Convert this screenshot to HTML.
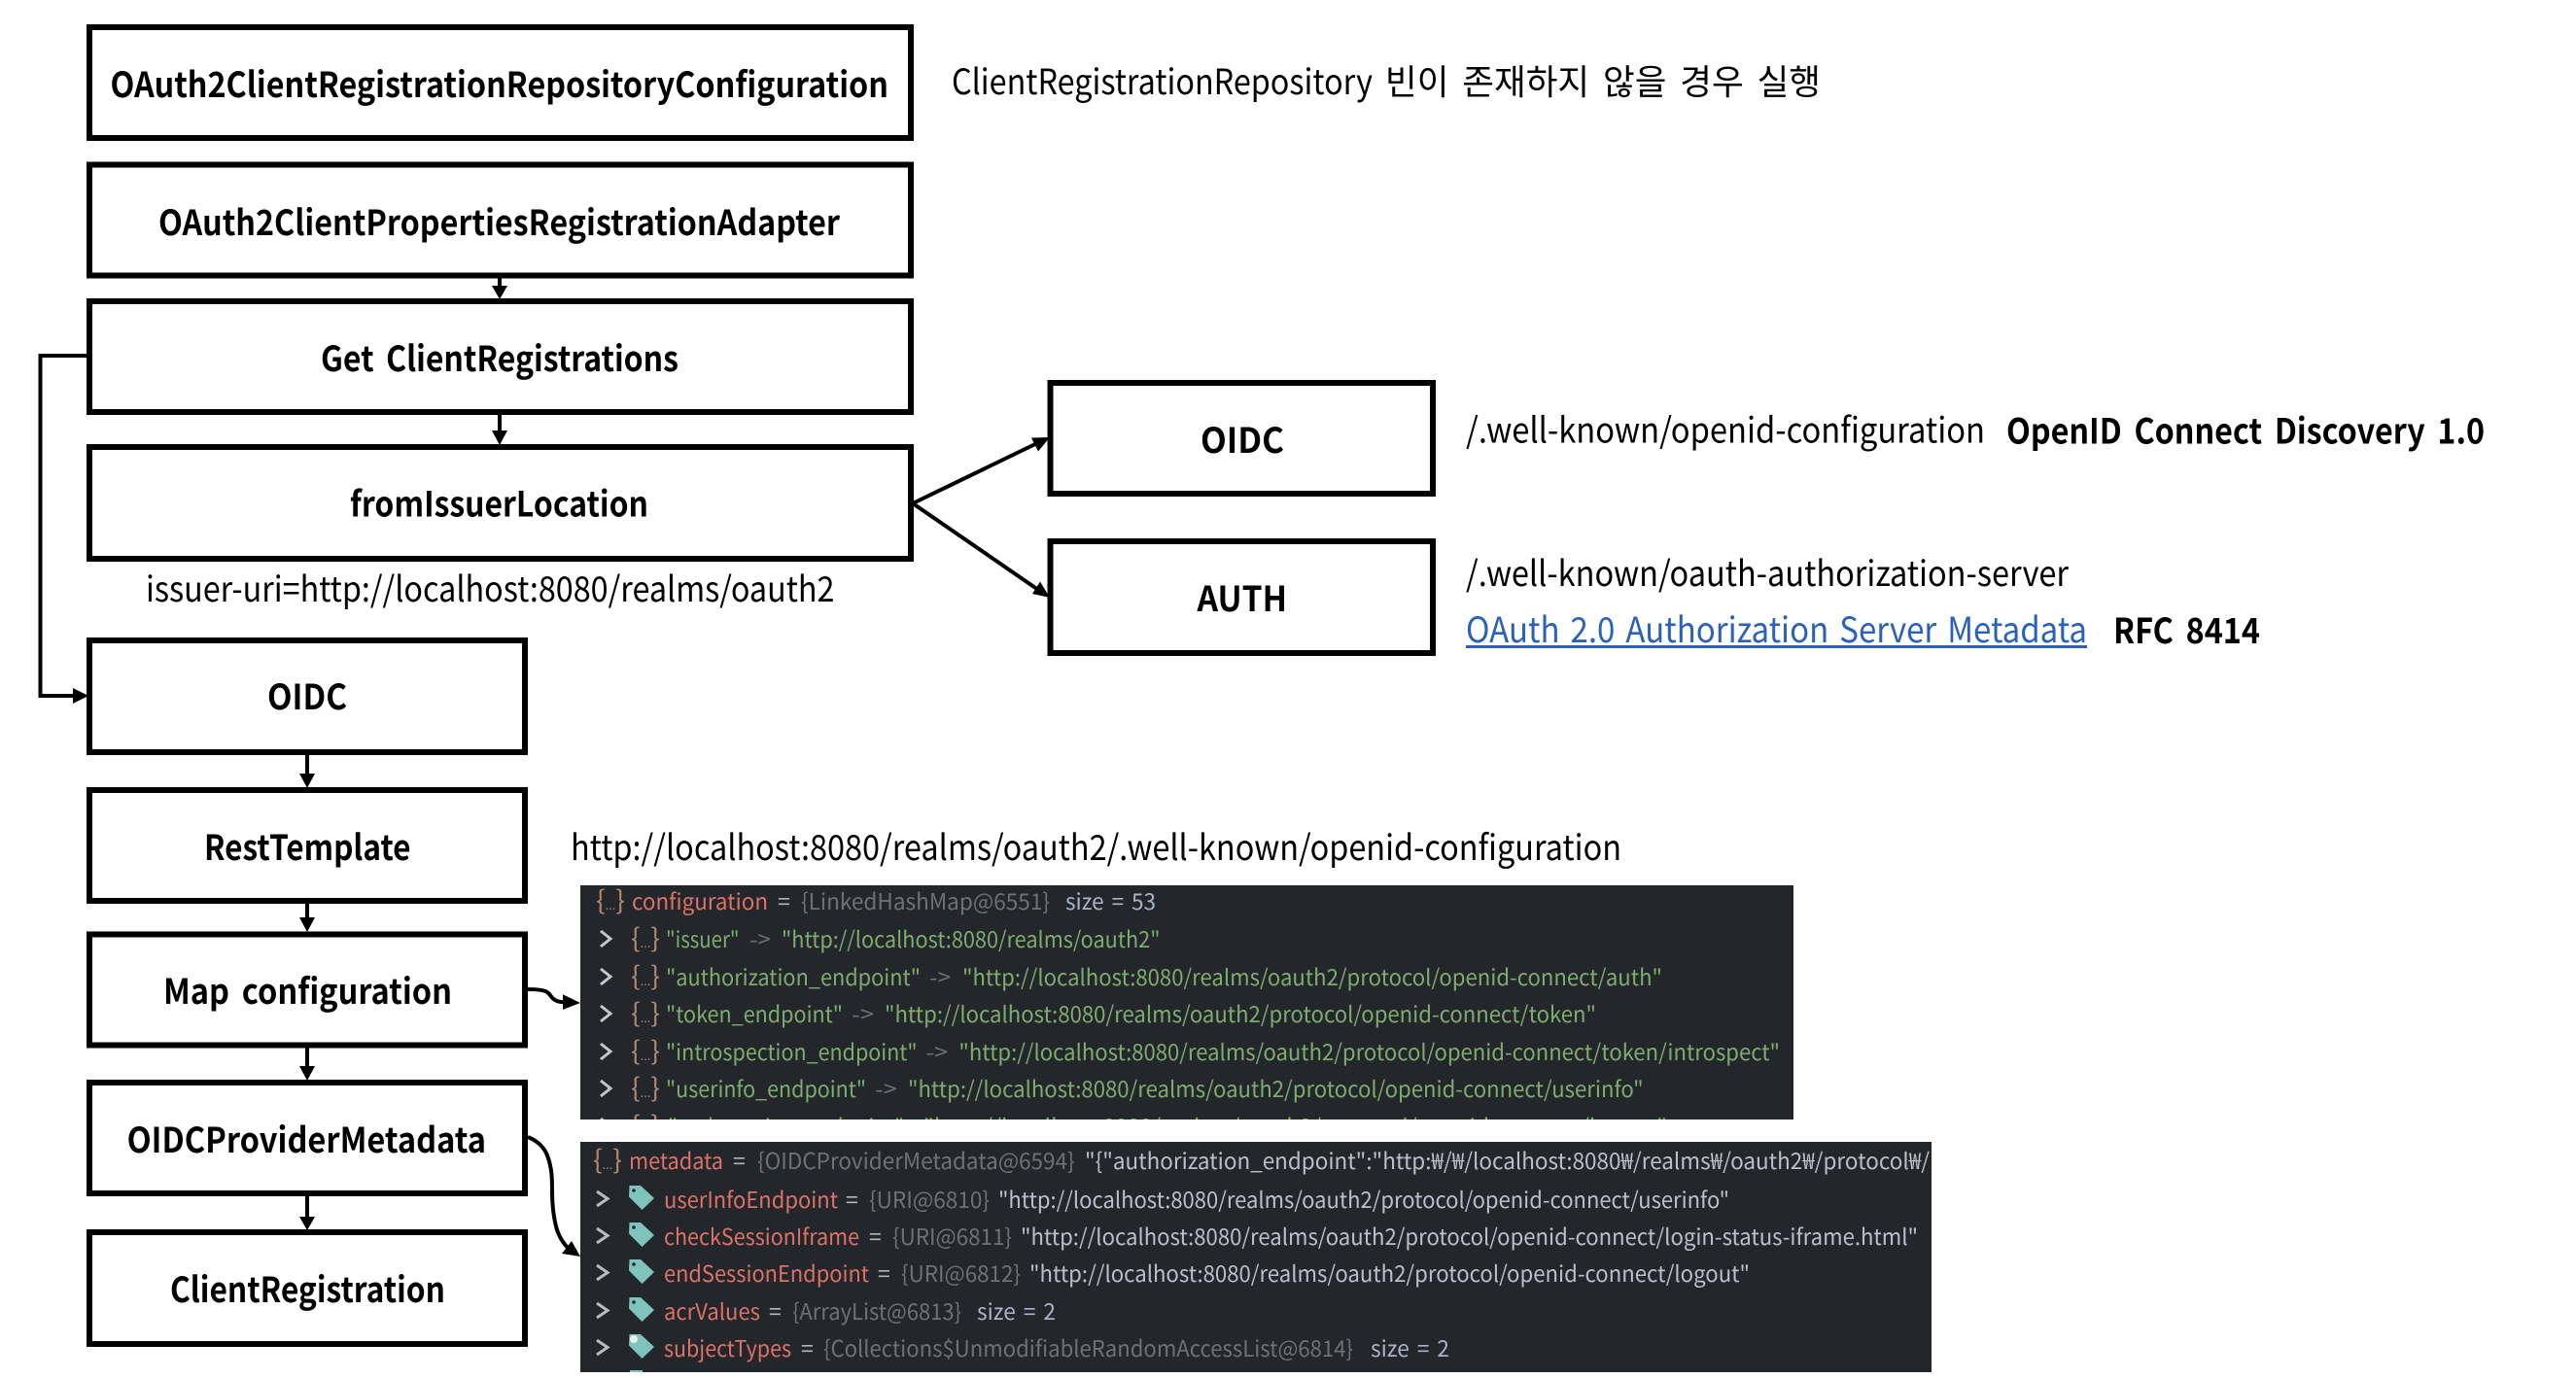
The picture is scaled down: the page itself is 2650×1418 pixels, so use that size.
<!DOCTYPE html>
<html><head><meta charset="utf-8"><style>
html,body{margin:0;padding:0;background:#fff}
svg{display:block}
text{font-family:"Noto Sans CJK KR","Liberation Sans",sans-serif;white-space:pre}
.b{font-size:36px;font-weight:700;fill:#000;word-spacing:6px}
.r{font-size:36px;fill:#000}
.c{font-size:23px}
text.tan{font-size:27px}
.d{font-size:12px}
.tan{fill:#b08a70}.red{fill:#dc7268}.eq{fill:#b0b6c0}.gry{fill:#6c727a}.sz{fill:#a9b4c6}.grn{fill:#7fac6e}.lt{fill:#b8c0cc}.ar{fill:#6e7278}
</style></head><body>
<svg xmlns="http://www.w3.org/2000/svg" width="2650" height="1418" viewBox="0 0 2650 1418">
<defs>
<clipPath id="p1"><rect x="597" y="911" width="1248" height="241"/></clipPath>
<clipPath id="p2"><rect x="597" y="1175" width="1390" height="237"/></clipPath>
<g id="tag"><path d="M647.500 -23 L659 -23 L673 -10 L660.500 2 L647 -11.500 Z" fill="#7fc4bc"/><circle cx="652" cy="-18" r="1.800" fill="#23262b"/></g>
<g id="tagw"><path d="M647.500 -23 L659 -23 L673 -10 L660.500 2 L647 -11.500 Z" fill="#7fc4bc"/><circle cx="652" cy="-18" r="4" fill="#e8eeee"/></g>
</defs>
<rect width="2650" height="1418" fill="#fff"/>

<!-- boxes -->
<g fill="#fff" stroke="#000" stroke-width="6">
<rect x="92" y="28" width="845" height="114"/>
<rect x="92" y="169.500" width="845" height="114"/>
<rect x="92" y="310" width="845" height="114"/>
<rect x="92" y="460" width="845" height="115"/>
<rect x="1080.500" y="394" width="393.500" height="114"/>
<rect x="1080.500" y="557" width="393.500" height="115"/>
<rect x="92" y="659" width="448" height="115"/>
<rect x="92" y="813" width="448" height="114"/>
<rect x="92" y="961.500" width="448" height="114"/>
<rect x="92" y="1114" width="448" height="114"/>
<rect x="92" y="1268" width="448" height="115"/>
</g>

<!-- connectors -->
<g fill="none" stroke="#000" stroke-width="4">
<path d="M514 286V294"/><path d="M514 427V443"/>
<path d="M316 777V796"/><path d="M316 930V944"/><path d="M316 1078V1097"/><path d="M316 1231V1252"/>
<path d="M89 366H41.500V716H76"/>
<path d="M939 518L1066 456.500"/><path d="M939 518L1066 605.500"/>
<path d="M543 1018C553 1018 560 1019 563 1021C567 1024 567 1027 571 1029C574 1031 577 1031 582 1031.500"/>
<path d="M543 1170C553 1174 560 1181 563 1189C568 1202 568 1214 568 1226C568 1240 569 1250 572 1262C574 1270 578 1278 585 1285"/>
</g>
<g fill="#000">
<polygon points="506,294 522,294 514,308"/>
<polygon points="506,443 522,443 514,458"/>
<polygon points="308,796 324,796 316,811"/>
<polygon points="308,944 324,944 316,959"/>
<polygon points="308,1097 324,1097 316,1112"/>
<polygon points="308,1252 324,1252 316,1266"/>
<polygon points="75,708 75,724 91,716"/>
<polygon points="1080,450 1068,464.500 1061,450.500"/>
<polygon points="1080,615 1062,611 1070,598.500"/>
<polygon points="597,1032 579,1023.300 579,1039"/>
<polygon points="597,1293 578,1290 588,1277"/>
</g>

<g transform="translate(0,1)">
<!-- box labels -->
<text class="b" x="113.500" y="99" textLength="800.500" lengthAdjust="spacingAndGlyphs">OAuth2ClientRegistrationRepositoryConfiguration</text>
<text class="b" x="163" y="241" textLength="701" lengthAdjust="spacingAndGlyphs">OAuth2ClientPropertiesRegistrationAdapter</text>
<text class="b" x="330" y="381" textLength="368" lengthAdjust="spacingAndGlyphs">Get ClientRegistrations</text>
<text class="b" x="360" y="530.500" textLength="307" lengthAdjust="spacingAndGlyphs">fromIssuerLocation</text>
<text class="b" x="1235" y="465" textLength="86" lengthAdjust="spacingAndGlyphs">OIDC</text>
<text class="b" x="1231.500" y="628" textLength="92.500" lengthAdjust="spacingAndGlyphs">AUTH</text>
<text class="b" x="275" y="729" textLength="82" lengthAdjust="spacingAndGlyphs">OIDC</text>
<text class="b" x="210" y="884" textLength="212.500" lengthAdjust="spacingAndGlyphs">RestTemplate</text>
<text class="b" x="168" y="1032" textLength="297" lengthAdjust="spacingAndGlyphs">Map configuration</text>
<text class="b" x="130.600" y="1185" textLength="369.400" lengthAdjust="spacingAndGlyphs">OIDCProviderMetadata</text>
<text class="b" x="175" y="1339" textLength="283" lengthAdjust="spacingAndGlyphs">ClientRegistration</text>

<!-- free text -->
<text class="r" x="979" y="96" textLength="433" lengthAdjust="spacingAndGlyphs">ClientRegistrationRepository</text>
<text class="r" x="1425" y="96" textLength="448" lengthAdjust="spacingAndGlyphs" style="word-spacing:6px">빈이 존재하지 않을 경우 실행</text>
<text class="r" x="150" y="618" textLength="708.500" lengthAdjust="spacingAndGlyphs">issuer-uri=http://localhost:8080/realms/oauth2</text>
<text class="r" x="1508" y="454.500" textLength="534" lengthAdjust="spacingAndGlyphs">/.well-known/openid-configuration</text>
<text class="b" x="2064" y="455.500" textLength="492" lengthAdjust="spacingAndGlyphs">OpenID Connect Discovery 1.0</text>
<text class="r" x="1508" y="602" textLength="620" lengthAdjust="spacingAndGlyphs">/.well-known/oauth-authorization-server</text>
<text class="r" x="1508" y="660" textLength="639" lengthAdjust="spacingAndGlyphs" style="fill:#2b62b9;word-spacing:4px">OAuth 2.0 Authorization Server Metadata</text>
<rect x="1508" y="663" width="639" height="3" fill="#2b62b9"/>
<text class="b" x="2174" y="661" textLength="151" lengthAdjust="spacingAndGlyphs">RFC 8414</text>
<text class="r" x="587" y="884" textLength="1081" lengthAdjust="spacingAndGlyphs">http://localhost:8080/realms/oauth2/.well-known/openid-configuration</text>
</g>

<!-- panel 1 -->
<rect x="597" y="911" width="1248" height="241" fill="#23262b"/>
<g clip-path="url(#p1)">
<g fill="none" stroke="#c3c6cc" stroke-width="3">
<path d="M618 958L628 966L618 974"/><path d="M618 997L628 1005L618 1013"/><path d="M618 1035L628 1043L618 1051"/><path d="M618 1074L628 1082L618 1090"/><path d="M618 1112L628 1120L618 1128"/><path d="M618 1151L628 1159L618 1167"/>
</g>
<text class="c tan" x="613" y="936" textLength="30" lengthAdjust="spacingAndGlyphs">{<tspan class="d">...</tspan>}</text>
<text class="c red" x="650" y="936" textLength="140" lengthAdjust="spacingAndGlyphs">configuration</text>
<text class="c eq" x="800" y="936">=</text>
<text class="c gry" x="824" y="936" textLength="256" lengthAdjust="spacingAndGlyphs">{LinkedHashMap@6551}</text>
<text class="c sz" x="1096" y="936" textLength="93" lengthAdjust="spacingAndGlyphs" style="word-spacing:3px">size = 53</text>

<text class="c tan" x="649" y="975" textLength="30" lengthAdjust="spacingAndGlyphs">{<tspan class="d">...</tspan>}</text>
<text class="c grn" x="685" y="975" textLength="75.500" lengthAdjust="spacingAndGlyphs">"issuer"</text>
<text class="c ar" x="771" y="975" textLength="22" lengthAdjust="spacingAndGlyphs">-&gt;</text>
<text class="c grn" x="804" y="975" textLength="389.500" lengthAdjust="spacingAndGlyphs">"http://localhost:8080/realms/oauth2"</text>

<text class="c tan" x="649" y="1014" textLength="30" lengthAdjust="spacingAndGlyphs">{<tspan class="d">...</tspan>}</text>
<text class="c grn" x="685" y="1014" textLength="262" lengthAdjust="spacingAndGlyphs">"authorization_endpoint"</text>
<text class="c ar" x="956" y="1014" textLength="22" lengthAdjust="spacingAndGlyphs">-&gt;</text>
<text class="c grn" x="990" y="1014" textLength="720" lengthAdjust="spacingAndGlyphs">"http://localhost:8080/realms/oauth2/protocol/openid-connect/auth"</text>

<text class="c tan" x="649" y="1052" textLength="30" lengthAdjust="spacingAndGlyphs">{<tspan class="d">...</tspan>}</text>
<text class="c grn" x="685" y="1052" textLength="182" lengthAdjust="spacingAndGlyphs">"token_endpoint"</text>
<text class="c ar" x="876" y="1052" textLength="23" lengthAdjust="spacingAndGlyphs">-&gt;</text>
<text class="c grn" x="910" y="1052" textLength="732" lengthAdjust="spacingAndGlyphs">"http://localhost:8080/realms/oauth2/protocol/openid-connect/token"</text>

<text class="c tan" x="649" y="1091" textLength="30" lengthAdjust="spacingAndGlyphs">{<tspan class="d">...</tspan>}</text>
<text class="c grn" x="685" y="1091" textLength="258.600" lengthAdjust="spacingAndGlyphs">"introspection_endpoint"</text>
<text class="c ar" x="952.500" y="1091" textLength="22.500" lengthAdjust="spacingAndGlyphs">-&gt;</text>
<text class="c grn" x="986.400" y="1091" textLength="844.600" lengthAdjust="spacingAndGlyphs">"http://localhost:8080/realms/oauth2/protocol/openid-connect/token/introspect"</text>

<text class="c tan" x="649" y="1129" textLength="30" lengthAdjust="spacingAndGlyphs">{<tspan class="d">...</tspan>}</text>
<text class="c grn" x="685" y="1129" textLength="206" lengthAdjust="spacingAndGlyphs">"userinfo_endpoint"</text>
<text class="c ar" x="900" y="1129" textLength="22.600" lengthAdjust="spacingAndGlyphs">-&gt;</text>
<text class="c grn" x="934" y="1129" textLength="756.600" lengthAdjust="spacingAndGlyphs">"http://localhost:8080/realms/oauth2/protocol/openid-connect/userinfo"</text>

<text class="c tan" x="649" y="1168" textLength="30" lengthAdjust="spacingAndGlyphs">{<tspan class="d">...</tspan>}</text>
<text class="c grn" x="687" y="1168" textLength="243" lengthAdjust="spacingAndGlyphs">"end_session_endpoint"</text>
<text class="c grn" x="950" y="1168" textLength="765" lengthAdjust="spacingAndGlyphs">"http://localhost:8080/realms/oauth2/protocol/openid-connect/logout"</text>
</g>

<!-- panel 2 -->
<rect x="597" y="1175" width="1390" height="237" fill="#23262b"/>
<g clip-path="url(#p2)">
<g fill="none" stroke="#b8bbc2" stroke-width="3">
<path d="M614 1226L625 1233.500L614 1241"/><path d="M614 1264L625 1271.500L614 1279"/><path d="M614 1302L625 1309.500L614 1317"/><path d="M614 1341L625 1348.500L614 1356"/><path d="M614 1379L625 1386.500L614 1394"/>
</g>
<use href="#tag" y="1243"/><use href="#tag" y="1281"/><use href="#tag" y="1319"/><use href="#tag" y="1358"/><use href="#tagw" y="1396"/>
<rect x="648" y="1410" width="13" height="2" fill="#7fc4bc"/>
<text class="c tan" x="610" y="1203" textLength="30" lengthAdjust="spacingAndGlyphs">{<tspan class="d">...</tspan>}</text>
<text class="c red" x="647" y="1203" textLength="97" lengthAdjust="spacingAndGlyphs">metadata</text>
<text class="c eq" x="754" y="1203">=</text>
<text class="c gry" x="779" y="1203" textLength="326.600" lengthAdjust="spacingAndGlyphs">{OIDCProviderMetadata@6594}</text>
<text class="c lt" x="1116" y="1203" textLength="869" lengthAdjust="spacingAndGlyphs">"{"authorization_endpoint":"http:₩/₩/localhost:8080₩/realms₩/oauth2₩/protocol₩/</text>

<text class="c red" x="683" y="1243" textLength="179" lengthAdjust="spacingAndGlyphs">userInfoEndpoint</text>
<text class="c eq" x="870" y="1243">=</text>
<text class="c gry" x="894" y="1243" textLength="124" lengthAdjust="spacingAndGlyphs">{URI@6810}</text>
<text class="c lt" x="1027" y="1243" textLength="752" lengthAdjust="spacingAndGlyphs">"http://localhost:8080/realms/oauth2/protocol/openid-connect/userinfo"</text>

<text class="c red" x="683" y="1281" textLength="201" lengthAdjust="spacingAndGlyphs">checkSessionIframe</text>
<text class="c eq" x="894" y="1281">=</text>
<text class="c gry" x="918" y="1281" textLength="123" lengthAdjust="spacingAndGlyphs">{URI@6811}</text>
<text class="c lt" x="1050" y="1281" textLength="923" lengthAdjust="spacingAndGlyphs">"http://localhost:8080/realms/oauth2/protocol/openid-connect/login-status-iframe.html"</text>

<text class="c red" x="683" y="1319" textLength="211" lengthAdjust="spacingAndGlyphs">endSessionEndpoint</text>
<text class="c eq" x="903" y="1319">=</text>
<text class="c gry" x="927" y="1319" textLength="123" lengthAdjust="spacingAndGlyphs">{URI@6812}</text>
<text class="c lt" x="1059" y="1319" textLength="741" lengthAdjust="spacingAndGlyphs">"http://localhost:8080/realms/oauth2/protocol/openid-connect/logout"</text>

<text class="c red" x="683" y="1358" textLength="99" lengthAdjust="spacingAndGlyphs">acrValues</text>
<text class="c eq" x="791" y="1358">=</text>
<text class="c gry" x="815" y="1358" textLength="174" lengthAdjust="spacingAndGlyphs">{ArrayList@6813}</text>
<text class="c sz" x="1005" y="1358" textLength="81" lengthAdjust="spacingAndGlyphs" style="word-spacing:3px">size = 2</text>

<text class="c red" x="683" y="1396" textLength="131" lengthAdjust="spacingAndGlyphs">subjectTypes</text>
<text class="c eq" x="824" y="1396">=</text>
<text class="c gry" x="847" y="1396" textLength="545" lengthAdjust="spacingAndGlyphs">{Collections$UnmodifiableRandomAccessList@6814}</text>
<text class="c sz" x="1410" y="1396" textLength="81" lengthAdjust="spacingAndGlyphs" style="word-spacing:3px">size = 2</text>
</g>
</svg>
</body></html>
